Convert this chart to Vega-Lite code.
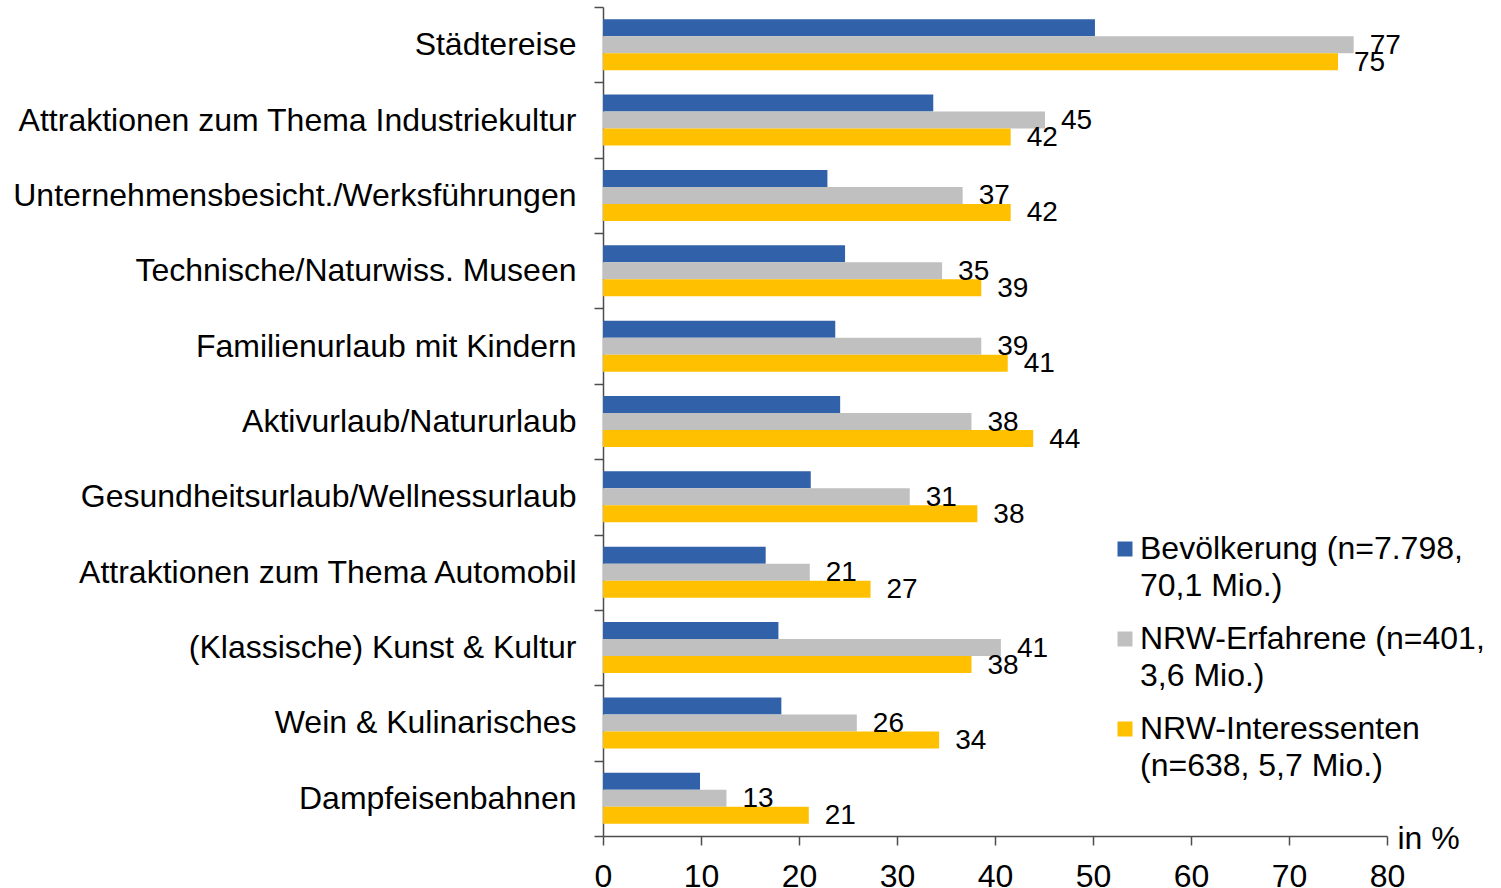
{
  "$schema": "https://vega.github.io/schema/vega-lite/v6.json",
  "width": 784,
  "height": 829,
  "autosize": {"type": "none"},
  "padding": {"left": 603, "top": 7, "right": 114, "bottom": 52},
  "background": "white",
  "config": {
    "view": {"stroke": null},
    "font": "Liberation Sans",
    "style": {"guide-label": {"lineHeight": 37}}
  },
  "data": {
    "values": [
      {"cat": "Städtereise", "series": "Bevölkerung", "value": 50.2},
      {"cat": "Städtereise", "series": "NRW-Erfahrene", "value": 76.6},
      {"cat": "Städtereise", "series": "NRW-Interessenten", "value": 75.0},
      {"cat": "Attraktionen zum Thema Industriekultur", "series": "Bevölkerung", "value": 33.7},
      {"cat": "Attraktionen zum Thema Industriekultur", "series": "NRW-Erfahrene", "value": 45.1},
      {"cat": "Attraktionen zum Thema Industriekultur", "series": "NRW-Interessenten", "value": 41.6},
      {"cat": "Unternehmensbesicht./Werksführungen", "series": "Bevölkerung", "value": 22.9},
      {"cat": "Unternehmensbesicht./Werksführungen", "series": "NRW-Erfahrene", "value": 36.7},
      {"cat": "Unternehmensbesicht./Werksführungen", "series": "NRW-Interessenten", "value": 41.6},
      {"cat": "Technische/Naturwiss. Museen", "series": "Bevölkerung", "value": 24.7},
      {"cat": "Technische/Naturwiss. Museen", "series": "NRW-Erfahrene", "value": 34.6},
      {"cat": "Technische/Naturwiss. Museen", "series": "NRW-Interessenten", "value": 38.6},
      {"cat": "Familienurlaub mit Kindern", "series": "Bevölkerung", "value": 23.7},
      {"cat": "Familienurlaub mit Kindern", "series": "NRW-Erfahrene", "value": 38.6},
      {"cat": "Familienurlaub mit Kindern", "series": "NRW-Interessenten", "value": 41.3},
      {"cat": "Aktivurlaub/Natururlaub", "series": "Bevölkerung", "value": 24.2},
      {"cat": "Aktivurlaub/Natururlaub", "series": "NRW-Erfahrene", "value": 37.6},
      {"cat": "Aktivurlaub/Natururlaub", "series": "NRW-Interessenten", "value": 43.9},
      {"cat": "Gesundheitsurlaub/Wellnessurlaub", "series": "Bevölkerung", "value": 21.2},
      {"cat": "Gesundheitsurlaub/Wellnessurlaub", "series": "NRW-Erfahrene", "value": 31.3},
      {"cat": "Gesundheitsurlaub/Wellnessurlaub", "series": "NRW-Interessenten", "value": 38.2},
      {"cat": "Attraktionen zum Thema Automobil", "series": "Bevölkerung", "value": 16.6},
      {"cat": "Attraktionen zum Thema Automobil", "series": "NRW-Erfahrene", "value": 21.1},
      {"cat": "Attraktionen zum Thema Automobil", "series": "NRW-Interessenten", "value": 27.3},
      {"cat": "(Klassische) Kunst & Kultur", "series": "Bevölkerung", "value": 17.9},
      {"cat": "(Klassische) Kunst & Kultur", "series": "NRW-Erfahrene", "value": 40.6},
      {"cat": "(Klassische) Kunst & Kultur", "series": "NRW-Interessenten", "value": 37.6},
      {"cat": "Wein & Kulinarisches", "series": "Bevölkerung", "value": 18.2},
      {"cat": "Wein & Kulinarisches", "series": "NRW-Erfahrene", "value": 25.9},
      {"cat": "Wein & Kulinarisches", "series": "NRW-Interessenten", "value": 34.3},
      {"cat": "Dampfeisenbahnen", "series": "Bevölkerung", "value": 9.9},
      {"cat": "Dampfeisenbahnen", "series": "NRW-Erfahrene", "value": 12.6},
      {"cat": "Dampfeisenbahnen", "series": "NRW-Interessenten", "value": 21.0}
    ]
  },
  "encoding": {
    "y": {
      "field": "cat",
      "type": "nominal",
      "sort": ["Städtereise", "Attraktionen zum Thema Industriekultur", "Unternehmensbesicht./Werksführungen", "Technische/Naturwiss. Museen", "Familienurlaub mit Kindern", "Aktivurlaub/Natururlaub", "Gesundheitsurlaub/Wellnessurlaub", "Attraktionen zum Thema Automobil", "(Klassische) Kunst & Kultur", "Wein & Kulinarisches", "Dampfeisenbahnen"],
      "scale": {"paddingInner": 0, "paddingOuter": 0},
      "axis": {
        "title": null,
        "tickBand": "extent",
        "tickSize": 9,
        "tickColor": "#4d4d4d",
        "tickWidth": 1.5,
        "domainColor": "#4d4d4d",
        "domainWidth": 1.5,
        "labelFontSize": 32,
        "labelColor": "#000000",
        "labelPadding": 18,
        "labelLimit": 700
      }
    },
    "x": {
      "field": "value",
      "type": "quantitative",
      "scale": {"domain": [0, 80], "nice": false},
      "axis": {
        "values": [0, 10, 20, 30, 40, 50, 60, 70, 80],
        "grid": false,
        "labelFlush": false,
        "tickSize": 9,
        "tickColor": "#4d4d4d",
        "tickWidth": 1.5,
        "domainColor": "#4d4d4d",
        "domainWidth": 1.5,
        "labelFontSize": 32,
        "labelColor": "#000000",
        "labelPadding": 16,
        "title": "in %",
        "titleFontSize": 32,
        "titleFontWeight": "normal",
        "titleColor": "#000000",
        "titleAlign": "left",
        "titleBaseline": "middle",
        "titleAngle": 0,
        "titleX": 794,
        "titleY": 2
      }
    },
    "yOffset": {
      "field": "series",
      "type": "nominal",
      "sort": ["Bevölkerung", "NRW-Erfahrene", "NRW-Interessenten"],
      "scale": {"paddingInner": 0, "paddingOuter": 0.7165}
    }
  },
  "layer": [
    {
      "mark": {"type": "bar"},
      "encoding": {
        "color": {
          "field": "series",
          "type": "nominal",
          "sort": ["Bevölkerung", "NRW-Erfahrene", "NRW-Interessenten"],
          "scale": {"domain": ["Bevölkerung", "NRW-Erfahrene", "NRW-Interessenten"], "range": ["#3162A9", "#C0C0C0", "#FFC000"]},
          "legend": {
            "title": null,
            "orient": "none",
            "legendX": 506,
            "legendY": 526,
            "symbolType": "square",
            "symbolSize": 225,
            "symbolStrokeWidth": 0,
            "labelFontSize": 32,
            "labelColor": "#000000",
            "labelLimit": 600,
            "labelOffset": -1,
            "rowPadding": 21,
            "labelExpr": "datum.label == 'Bevölkerung' ? ['Bevölkerung (n=7.798,', '70,1 Mio.)'] : datum.label == 'NRW-Erfahrene' ? ['NRW-Erfahrene (n=401,', '3,6 Mio.)'] : ['NRW-Interessenten', '(n=638, 5,7 Mio.)']"
          }
        }
      }
    },
    {
      "transform": [{"filter": "datum.series != 'Bevölkerung'"}],
      "mark": {"type": "text", "align": "left", "baseline": "middle", "dx": 16, "dy": 1, "fontSize": 28, "color": "#000000"},
      "encoding": {
        "text": {"field": "value", "type": "quantitative", "format": ".0f"}
      }
    }
  ]
}
